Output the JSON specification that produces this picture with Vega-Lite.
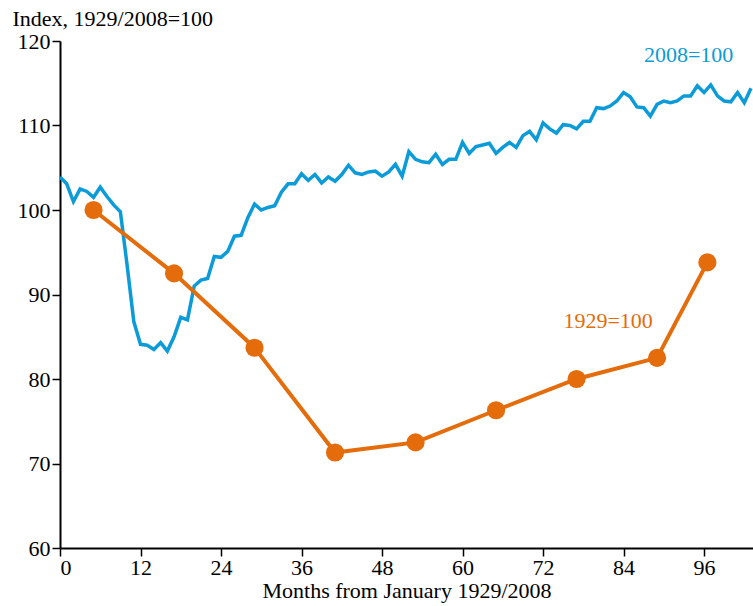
{
  "$schema": "https://vega.github.io/schema/vega-lite/v6.json",
  "width": 693,
  "height": 507,
  "autosize": {"type": "none"},
  "padding": {"left": 60, "top": 41, "right": 0, "bottom": 58},
  "background": "white",
  "config": {
    "view": {"stroke": null},
    "font": "Liberation Serif",
    "axis": {
      "grid": false,
      "domainColor": "black",
      "domainWidth": 2,
      "tickColor": "black",
      "tickWidth": 1.5,
      "tickSize": 8,
      "labelFont": "Liberation Serif",
      "labelFontSize": 22,
      "labelColor": "black",
      "titleFont": "Liberation Serif",
      "titleFontSize": 22,
      "titleFontWeight": "normal",
      "titleColor": "black"
    }
  },
  "datasets": {
    "d2008": [
      {"month": 0, "value": 103.9}, {"month": 1, "value": 103.1}, {"month": 2, "value": 101.0},
      {"month": 3, "value": 102.5}, {"month": 4, "value": 102.2}, {"month": 5, "value": 101.5},
      {"month": 6, "value": 102.7}, {"month": 7, "value": 101.6}, {"month": 8, "value": 100.6},
      {"month": 9, "value": 99.8}, {"month": 10, "value": 93.5}, {"month": 11, "value": 86.8},
      {"month": 12, "value": 84.1}, {"month": 13, "value": 84.0}, {"month": 14, "value": 83.5},
      {"month": 15, "value": 84.3}, {"month": 16, "value": 83.3}, {"month": 17, "value": 85.0},
      {"month": 18, "value": 87.3}, {"month": 19, "value": 87.0}, {"month": 20, "value": 91.0},
      {"month": 21, "value": 91.7}, {"month": 22, "value": 91.9}, {"month": 23, "value": 94.5},
      {"month": 24, "value": 94.4}, {"month": 25, "value": 95.1}, {"month": 26, "value": 96.9},
      {"month": 27, "value": 97.0}, {"month": 28, "value": 99.1}, {"month": 29, "value": 100.7},
      {"month": 30, "value": 100.0}, {"month": 31, "value": 100.3}, {"month": 32, "value": 100.5},
      {"month": 33, "value": 102.1}, {"month": 34, "value": 103.1}, {"month": 35, "value": 103.1},
      {"month": 36, "value": 104.3}, {"month": 37, "value": 103.5}, {"month": 38, "value": 104.2},
      {"month": 39, "value": 103.2}, {"month": 40, "value": 103.9}, {"month": 41, "value": 103.4},
      {"month": 42, "value": 104.2}, {"month": 43, "value": 105.3}, {"month": 44, "value": 104.4},
      {"month": 45, "value": 104.2}, {"month": 46, "value": 104.5}, {"month": 47, "value": 104.6},
      {"month": 48, "value": 104.0}, {"month": 49, "value": 104.5}, {"month": 50, "value": 105.4},
      {"month": 51, "value": 104.0}, {"month": 52, "value": 106.9}, {"month": 53, "value": 106.0},
      {"month": 54, "value": 105.7}, {"month": 55, "value": 105.6}, {"month": 56, "value": 106.6},
      {"month": 57, "value": 105.4}, {"month": 58, "value": 106.0}, {"month": 59, "value": 106.0},
      {"month": 60, "value": 108.0}, {"month": 61, "value": 106.7}, {"month": 62, "value": 107.5},
      {"month": 63, "value": 107.7}, {"month": 64, "value": 107.9}, {"month": 65, "value": 106.7},
      {"month": 66, "value": 107.4}, {"month": 67, "value": 108.0}, {"month": 68, "value": 107.4},
      {"month": 69, "value": 108.8}, {"month": 70, "value": 109.3}, {"month": 71, "value": 108.3},
      {"month": 72, "value": 110.3}, {"month": 73, "value": 109.6}, {"month": 74, "value": 109.1},
      {"month": 75, "value": 110.1}, {"month": 76, "value": 110.0}, {"month": 77, "value": 109.6},
      {"month": 78, "value": 110.5}, {"month": 79, "value": 110.5}, {"month": 80, "value": 112.1},
      {"month": 81, "value": 112.0}, {"month": 82, "value": 112.3}, {"month": 83, "value": 112.9},
      {"month": 84, "value": 113.9}, {"month": 85, "value": 113.4}, {"month": 86, "value": 112.2},
      {"month": 87, "value": 112.1}, {"month": 88, "value": 111.1}, {"month": 89, "value": 112.5},
      {"month": 90, "value": 112.9}, {"month": 91, "value": 112.7}, {"month": 92, "value": 112.9},
      {"month": 93, "value": 113.5}, {"month": 94, "value": 113.5}, {"month": 95, "value": 114.7},
      {"month": 96, "value": 113.9}, {"month": 97, "value": 114.8}, {"month": 98, "value": 113.5},
      {"month": 99, "value": 112.9}, {"month": 100, "value": 112.8}, {"month": 101, "value": 113.9},
      {"month": 102, "value": 112.7}, {"month": 103, "value": 114.4}
    ],
    "d1929": [
      {"month": 5, "value": 100.0}, {"month": 17, "value": 92.5}, {"month": 29, "value": 83.7},
      {"month": 41, "value": 71.3}, {"month": 53, "value": 72.5}, {"month": 65, "value": 76.3},
      {"month": 77, "value": 80.0}, {"month": 89, "value": 82.5}, {"month": 96.5, "value": 93.8}
    ]
  },
  "layer": [
    {
      "mark": {"type": "rule", "color": "black", "strokeWidth": 2},
      "encoding": {"y": {"datum": 100, "type": "quantitative"}}
    },
    {
      "data": {"name": "d2008"},
      "mark": {"type": "line", "color": "#0B9BD8", "strokeWidth": 3.5, "clip": true},
      "encoding": {
        "x": {
          "field": "month", "type": "quantitative",
          "scale": {"domain": [0, 103.3], "nice": false, "zero": false},
          "axis": {
            "values": [0, 12, 24, 36, 48, 60, 72, 84, 96],
            "title": "Months from January 1929/2008",
            "labelPadding": 1,
            "titlePadding": 2
          }
        },
        "y": {
          "field": "value", "type": "quantitative",
          "scale": {"domain": [60, 120], "nice": false, "zero": false},
          "axis": {
            "values": [60, 70, 80, 90, 100, 110, 120],
            "title": "Index, 1929/2008=100",
            "titleAngle": 0,
            "titleAlign": "left",
            "titleBaseline": "alphabetic",
            "titleX": -48,
            "titleY": -16,
            "labelPadding": 2
          }
        }
      }
    },
    {
      "data": {"name": "d1929"},
      "mark": {"type": "line", "color": "#E46C0A", "strokeWidth": 4},
      "encoding": {
        "x": {"field": "month", "type": "quantitative"},
        "y": {"field": "value", "type": "quantitative"}
      }
    },
    {
      "data": {"name": "d1929"},
      "mark": {"type": "circle", "color": "#E46C0A", "size": 330, "opacity": 1},
      "encoding": {
        "x": {"field": "month", "type": "quantitative"},
        "y": {"field": "value", "type": "quantitative"}
      }
    },
    {
      "data": {"values": [{"label": "2008=100"}]},
      "mark": {"type": "text", "color": "#0B9BD8", "font": "Liberation Serif", "fontSize": 22, "align": "center", "baseline": "middle"},
      "encoding": {
        "text": {"field": "label", "type": "nominal"},
        "x": {"datum": 93.7, "type": "quantitative"},
        "y": {"datum": 118.3, "type": "quantitative"}
      }
    },
    {
      "data": {"values": [{"label": "1929=100"}]},
      "mark": {"type": "text", "color": "#E46C0A", "font": "Liberation Serif", "fontSize": 22, "align": "center", "baseline": "middle"},
      "encoding": {
        "text": {"field": "label", "type": "nominal"},
        "x": {"datum": 81.7, "type": "quantitative"},
        "y": {"datum": 86.9, "type": "quantitative"}
      }
    }
  ]
}
